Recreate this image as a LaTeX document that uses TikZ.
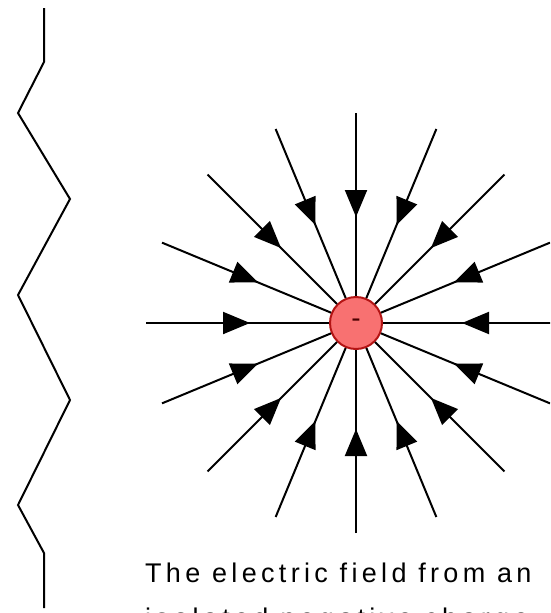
\documentclass[tikz,border=0pt]{standalone}
\usepackage{fontspec}
\setmainfont{Liberation Sans}
\usetikzlibrary{arrows.meta,decorations.markings,calc}
\definecolor{ChargeFill}{HTML}{F87171}
\definecolor{ChargeEdge}{HTML}{B41414}
\definecolor{ChargeSign}{HTML}{4A0000}

\begin{document}
\begin{tikzpicture}[x=1pt,y=-1pt,
  fieldline/.style={line width=2pt,postaction={decorate},
    decoration={markings,mark=at position 104pt with {\arrow{Triangle[length=27pt,width=22pt]}}}},
  charge/.style={circle,draw=ChargeEdge,fill=ChargeFill,line width=2pt,minimum size=52pt,inner sep=0pt},
  zigzag/.style={line width=2pt,line join=miter},
]
\path[use as bounding box,clip] (0,0) rectangle (550,613);
% the charge
\node[charge,font=\fontsize{28}{28}\selectfont\color{ChargeSign}] (q) at (356,323) {-};
% sixteen field lines, all pointing in
\foreach \i in {0,...,15}{
  \coordinate (far\i) at ($(q.center)+(\i*22.5:210)$);
  \draw[fieldline] (far\i) -- (q);
}
% the wavy edge on the left
\draw[zigzag] (44,8) -- (44,62) -- (18,113) -- (70,199) -- (18,295) -- (70,400)
  -- (18,505) -- (44,553) -- (44,608);
\node[anchor=north west,align=left,inner sep=0pt,
  font=\fontsize{27}{45}\selectfont\addfontfeature{LetterSpace=16}] (caption) at (145,563)
  {The electric field from an\\isolated negative charge};
\end{tikzpicture}
\end{document}
